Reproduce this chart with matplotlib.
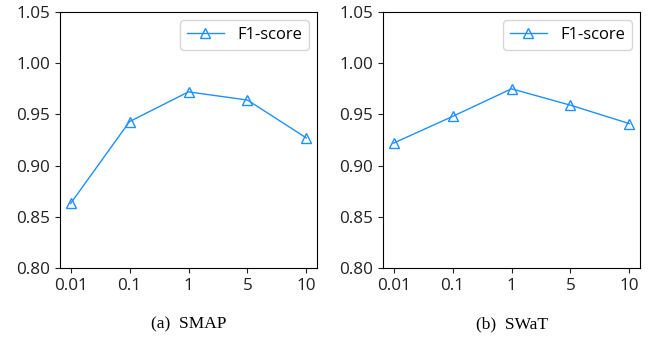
import numpy as np
import matplotlib.pyplot as plt

x_labels = ['0.01', '0.1', '1', '5', '10']
smap_f1 = [0.863, 0.943, 0.972, 0.964, 0.927]
swat_f1 = [0.922, 0.948, 0.975, 0.959, 0.941]
captions = ['(a)  SMAP', '(b)  SWaT']

plt.rcParams['font.family'] = ['Open Sans', 'DejaVu Sans']

fig = plt.figure(figsize=(6.53, 3.39), dpi=100)
ax_pos = [[60/653, 1-268/339, 257/653, 256/339],
          [383/653, 1-268/339, 257/653, 256/339]]
xs = np.arange(len(x_labels))
for i, data in enumerate([smap_f1, swat_f1]):
    ax = fig.add_axes(ax_pos[i])
    ax.plot(xs, data, color='#1e90ff', marker='^', markersize=7.5,
            markerfacecolor='none', linewidth=1, label='F1-score')
    ax.set_ylim(0.80, 1.05)
    ax.set_yticks([0.80, 0.85, 0.90, 0.95, 1.00, 1.05])
    ax.set_yticklabels(['%.2f' % v for v in [0.80, 0.85, 0.90, 0.95, 1.00, 1.05]])
    ax.set_xticks(xs)
    ax.set_xticklabels(x_labels)
    ax.set_xlim(-0.18, 4.18)
    ax.tick_params(labelsize=12.3, colors='#222222')
    ax.legend(loc='upper right', fontsize=12, handlelength=2.2, edgecolor='#cccccc')
    cx = ax_pos[i][0] + ax_pos[i][2] / 2
    fig.text(cx, 1 - 324/339, captions[i], ha='center', va='center',
             family='Liberation Serif', fontsize=12.5)

fig.savefig('out.png', dpi=100)
